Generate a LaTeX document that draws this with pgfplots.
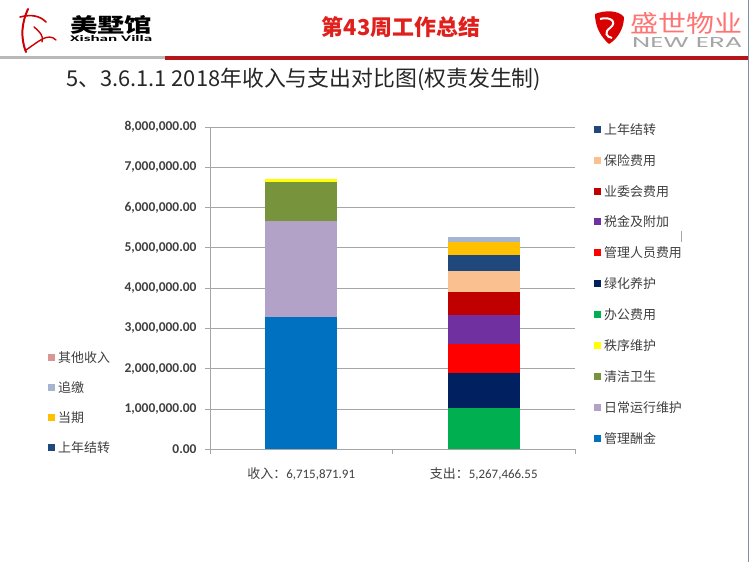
\documentclass[border=0pt]{standalone}
\usepackage{graphicx}
\usepackage{pgfplots}
\pgfplotsset{compat=1.18}
\usepackage{fontspec}
\setmainfont{Carlito}
\newfontfamily\cjk{Noto Sans CJK SC}
\newfontfamily\geo{Poppins}
\definecolor{cGL}{HTML}{0070C0}   % 管理酬金
\definecolor{cRC}{HTML}{B3A2C7}   % 日常运行维护
\definecolor{cQJ}{HTML}{77933C}   % 清洁卫生
\definecolor{cZX}{HTML}{FFFF00}   % 秩序维护
\definecolor{cBG}{HTML}{00B050}   % 办公费用
\definecolor{cLH}{HTML}{002060}   % 绿化养护
\definecolor{cRY}{HTML}{FF0000}   % 管理人员费用
\definecolor{cSJ}{HTML}{7030A0}   % 税金及附加
\definecolor{cYW}{HTML}{C00000}   % 业委会费用
\definecolor{cBX}{HTML}{FAC090}   % 保险费用
\definecolor{cSN}{HTML}{1F497D}   % 上年结转
\definecolor{cDQ}{HTML}{FFC000}   % 当期
\definecolor{cZJ}{HTML}{A5B4D0}   % 追缴
\definecolor{cQT}{HTML}{D99694}   % 其他收入
\definecolor{gridc}{HTML}{A6A6A6}
\definecolor{txt}{HTML}{404040}
\definecolor{titlered}{HTML}{E0201C}
\definecolor{linered}{HTML}{B5161C}
\definecolor{borderc}{HTML}{7F8FA6}
\pgfplotsset{
  legsq/.style={legend image code/.code={\fill[##1] (0bp,-1.5bp) rectangle (7bp,5.5bp); \path (10bp,0bp);}},
  legbase/.style={legend style={draw=none, fill=none, inner sep=0pt, row sep=18.9bp,
      font=\cjk\fontsize{13}{15}\selectfont, text=txt,
      nodes={inner sep=0pt, text height=9bp, text depth=3bp}},
    legend cell align=left, legsq},
}
\begin{document}
\begin{tikzpicture}[x=1bp,y=1bp]
\useasboundingbox (0,0) rectangle (750,562);
\fill[white] (0,0) rectangle (750,562);
% header separator
\fill[gray!55] (0,503) rectangle (165,506);
\fill[linered] (165,502) rectangle (748,506);
\draw[borderc, line width=1bp] (748.5,0) -- (748.5,562);
% left logo
\draw[red!80!black, line width=2bp, line cap=round] (28,553) .. controls (22,540) and (20,525) .. (26,510);
\draw[red!80!black, line width=1.6bp, line cap=round] (20,545) .. controls (32,548) and (40,546) .. (46,540);
\draw[red!80!black, line width=1.4bp, line cap=round] (26,512) .. controls (38,520) and (48,530) .. (56,522);
\draw[red!80!black, line width=1.4bp, line cap=round] (34,535) .. controls (40,530) and (44,526) .. (42,520);
\node[anchor=west, inner sep=0pt] at (70,537) {\resizebox{82bp}{17bp}{\cjk\bfseries 美墅馆}};
\node[anchor=west, inner sep=0pt] at (70,523.5) {\resizebox{82bp}{6bp}{\bfseries Xishan Villa}};
% right logo
\fill[red!85!black] (595,548) .. controls (605,552) and (618,552) .. (624,545)
   .. controls (624,532) and (616,522) .. (609,518) .. controls (600,526) and (595,536) .. (595,548) -- cycle;
\draw[white, line width=2bp] (600,543) .. controls (610,546) and (618,540) .. (610,534) .. controls (604,530) and (606,525) .. (612,524);
\node[anchor=west, inner sep=0pt] at (630,539) {\resizebox{112bp}{20bp}{\cjk\color{red!55!white}盛世物业}};
\node[anchor=west, inner sep=0pt] at (632,519.5) {\resizebox{110bp}{10bp}{\geo\color{gray!70}NEW ERA}};
% title and subtitle
\node[font=\cjk\bfseries\fontsize{22}{26}\selectfont, text=titlered] at (401,535) {第43周工作总结};
\node[anchor=west, inner sep=0pt, text=black!85] at (66,483) {\resizebox{475bp}{!}{\cjk\fontsize{20}{24}\selectfont 5、3.6.1.1 2018年收入与支出对比图(权责发生制)}};
\draw[gray!70, line width=0.8bp] (681,320) -- (681,331);

\begin{axis}[
  at={(210bp,112.7bp)}, anchor=south west,
  scale only axis, width=365bp, height=322.3bp,
  ybar stacked, bar width=72bp,
  xmin=-0.5, xmax=1.5, ymin=0, ymax=8000000,
  axis x line*=bottom, axis y line*=left,
  axis line style={gridc, line width=0.8bp},
  tick align=outside, major tick length=5bp,
  tick style={gridc, line width=0.8bp},
  xtick={-0.5,0.5,1.5}, xticklabels={},
  extra x ticks={0,1},
  extra x tick labels={{{\cjk 收入：}6,715,871.91},{{\cjk 支出：}5,267,466.55}},
  extra x tick style={tick style={draw=none},
     xticklabel style={font=\fontsize{13}{15}\selectfont, text=txt, yshift=-10bp}},
  ytick={0,1000000,2000000,3000000,4000000,5000000,6000000,7000000,8000000},
  scaled y ticks=false,
  yticklabel style={font=\bfseries\fontsize{13.5}{15}\selectfont, text=txt, xshift=-5bp,
     /pgf/number format/.cd, fixed, fixed zerofill, precision=2, 1000 sep={,}, assume math mode=true},
  ymajorgrids, grid style={gridc, line width=0.8bp},
  legbase,
  legend style={at={(1.0521,1.006)}, anchor=north west},
]
% income bar (x=0)
\addplot[fill=cGL, draw=none, forget plot] coordinates {(0,3294000) (1,0)};
\addplot[fill=cRC, draw=none, forget plot] coordinates {(0,2361000) (1,0)};
\addplot[fill=cQJ, draw=none, forget plot] coordinates {(0,979000) (1,0)};
\addplot[fill=cZX, draw=none, forget plot] coordinates {(0,81871.91) (1,0)};
% expense bar (x=1)
\addplot[fill=cBG, draw=none, forget plot] coordinates {(0,0) (1,1015000)};
\addplot[fill=cLH, draw=none, forget plot] coordinates {(0,0) (1,882000)};
\addplot[fill=cRY, draw=none, forget plot] coordinates {(0,0) (1,711000)};
\addplot[fill=cSJ, draw=none, forget plot] coordinates {(0,0) (1,718000)};
\addplot[fill=cYW, draw=none, forget plot] coordinates {(0,0) (1,577000)};
\addplot[fill=cBX, draw=none, forget plot] coordinates {(0,0) (1,513000)};
\addplot[fill=cSN, draw=none, forget plot] coordinates {(0,0) (1,414000)};
\addplot[fill=cDQ, draw=none, forget plot] coordinates {(0,0) (1,312000)};
\addplot[fill=cZJ, draw=none, forget plot] coordinates {(0,0) (1,125466.55)};
% right legend
\addlegendimage{fill=cSN, draw=none}\addlegendentry{上年结转}
\addlegendimage{fill=cBX, draw=none}\addlegendentry{保险费用}
\addlegendimage{fill=cYW, draw=none}\addlegendentry{业委会费用}
\addlegendimage{fill=cSJ, draw=none}\addlegendentry{税金及附加}
\addlegendimage{fill=cRY, draw=none}\addlegendentry{管理人员费用}
\addlegendimage{fill=cLH, draw=none}\addlegendentry{绿化养护}
\addlegendimage{fill=cBG, draw=none}\addlegendentry{办公费用}
\addlegendimage{fill=cZX, draw=none}\addlegendentry{秩序维护}
\addlegendimage{fill=cQJ, draw=none}\addlegendentry{清洁卫生}
\addlegendimage{fill=cRC, draw=none}\addlegendentry{日常运行维护}
\addlegendimage{fill=cGL, draw=none}\addlegendentry{管理酬金}
\end{axis}

\begin{axis}[
  at={(210bp,112.7bp)}, anchor=south west,
  scale only axis, width=365bp, height=322.3bp,
  xmin=0, xmax=1, ymin=0, ymax=1, hide axis,
  legbase,
  legend style={at={(-0.4438,0.299)}, anchor=north west, row sep=18bp},
]
\addlegendimage{fill=cQT, draw=none}\addlegendentry{其他收入}
\addlegendimage{fill=cZJ, draw=none}\addlegendentry{追缴}
\addlegendimage{fill=cDQ, draw=none}\addlegendentry{当期}
\addlegendimage{fill=cSN, draw=none}\addlegendentry{上年结转}
\end{axis}
\end{tikzpicture}
\end{document}
